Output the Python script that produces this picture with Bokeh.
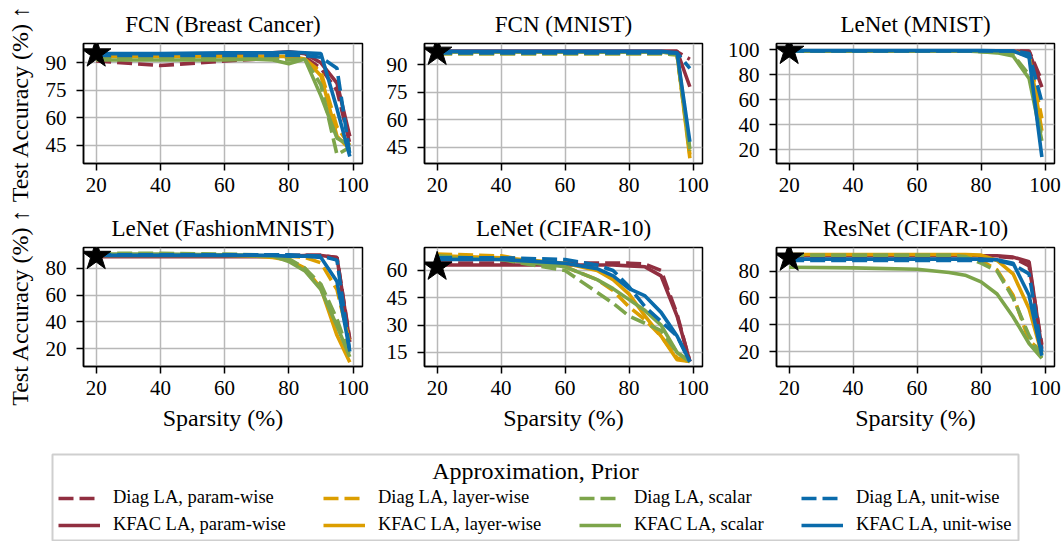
from bokeh.plotting import figure
from bokeh.models import Range1d, FixedTicker, Legend, LegendItem, Label
from bokeh.layouts import row, column
from bokeh.embed import file_html
from bokeh.resources import INLINE

FONT = "Liberation Serif"

# Sparsity levels (%) at which each pruned model was evaluated
SPARSITY = [20, 40, 60, 70, 75, 80, 85, 90, 95, 99]
X_TICKS = [20, 40, 60, 80, 100]

PRIORS = ["param-wise", "layer-wise", "scalar", "unit-wise"]
PRIOR_COLORS = ["#912f40", "#dc9e00", "#7da54b", "#0a6bab"]
APPROXS = ["Diag LA", "KFAC LA"]

# ---- FCN (Breast Cancer) ----
bc_diag_param = [91, 88.5, 91, 92, 92, 93, 93, 87, 75, 46]
bc_kfac_param = [94, 94, 95, 95.5, 95.5, 96, 95, 90, 79, 50]
bc_diag_layer = [93, 93, 93, 93, 93, 93, 92, 85, 55, 45]
bc_kfac_layer = [93.5, 93.5, 93.5, 93.5, 93.5, 93.5, 92, 83, 50, 43]
bc_diag_scalar = [92, 92, 92, 92, 92, 91.5, 92, 78, 40, 44]
bc_kfac_scalar = [91.5, 91.5, 91.5, 92, 91.5, 89.5, 92, 72, 49, 45]
bc_diag_unit = [94, 94, 94, 94, 94, 94, 94, 93, 87, 40]
bc_kfac_unit = [95, 95, 95.5, 95.5, 95.5, 95.8, 95.5, 95, 65, 39]

# ---- FCN (MNIST) ----
fm_diag_param = [96.5, 96.5, 96.5, 96.5, 96.5, 96.5, 96.5, 96.5, 97, 93]
fm_kfac_param = [97.5, 97.5, 97.5, 97.5, 97.5, 97.5, 97.5, 97.5, 97.5, 78]
fm_diag_layer = [96, 96, 96, 96, 96, 96, 96, 96, 95.5, 41]
fm_kfac_layer = [97, 97, 97, 97, 97, 97, 97, 97, 96, 39]
fm_diag_scalar = [96, 96, 96, 96, 96, 96, 96, 96, 95.5, 43]
fm_kfac_scalar = [97, 97, 97, 97, 97, 97, 97, 97, 96, 44]
fm_diag_unit = [96.5, 96.5, 96.5, 96.5, 96.5, 96.5, 96.5, 96.5, 96.5, 88]
fm_kfac_unit = [97.3, 97.3, 97.3, 97.3, 97.3, 97.3, 97.3, 97.3, 96.5, 48]

# ---- LeNet (MNIST) ----
lm_diag_param = [99, 99, 99, 99, 99, 99, 99, 99, 99, 75]
lm_kfac_param = [99, 99, 99, 99, 99, 99, 99, 99, 98.5, 70]
lm_diag_layer = [99, 99, 99, 99, 99, 99, 99, 98.5, 95, 45]
lm_kfac_layer = [99, 99, 99, 99, 99, 99, 99, 98.5, 96, 35]
lm_diag_scalar = [99, 99, 99, 99, 99, 98.5, 98, 96, 80, 30]
lm_kfac_scalar = [99, 99, 99, 99, 99, 98.5, 97.5, 95, 77, 27]
lm_diag_unit = [99, 99, 99, 99, 99, 99, 99, 99, 97, 58]
lm_kfac_unit = [99.4, 99.4, 99.4, 99.4, 99.4, 99.4, 99.2, 99, 94, 14]

# ---- LeNet (FashionMNIST) ----
lf_diag_param = [89.5, 89.5, 89.5, 89.5, 89.5, 89.5, 89.5, 89.5, 88, 27]
lf_kfac_param = [88.5, 88.5, 88.5, 88.5, 88.5, 89, 89.5, 89.5, 88, 25]
lf_diag_layer = [90, 90, 90, 90, 89.5, 89, 88, 84, 64, 24]
lf_kfac_layer = [89.5, 89.5, 89.5, 89, 88, 86, 80, 65, 30, 10]
lf_diag_scalar = [91, 91, 90.5, 90, 89.5, 87, 80, 68, 42, 15]
lf_kfac_scalar = [90.5, 90.5, 90, 89.5, 89, 85, 78, 64, 37, 14]
lf_diag_unit = [90, 90, 90, 90, 90, 90, 89.5, 89, 86, 18]
lf_kfac_unit = [89.5, 89.5, 89.5, 89.5, 89.5, 89, 89, 88, 70, 18]

# ---- LeNet (CIFAR-10) ----
lc_diag_param = [64, 64, 64, 64, 64, 64, 63.5, 60, 36, 10]
lc_kfac_param = [63, 63, 63, 63, 63, 62.5, 62, 57, 35, 10]
lc_diag_layer = [69, 68, 62, 55, 49, 40, 33, 24, 12, 10]
lc_kfac_layer = [68, 67, 64, 60, 55, 47, 35, 24, 11, 10]
lc_diag_scalar = [68, 66, 60, 48, 42, 35, 31, 27, 15, 10]
lc_kfac_scalar = [67, 66, 62, 55, 50, 44, 38, 30, 15, 10]
lc_diag_unit = [67, 67, 66, 63, 60, 51, 40, 32, 24, 10]
lc_kfac_unit = [66, 66, 64, 61, 57, 50, 46, 37, 24, 10]

# ---- ResNet (CIFAR-10) ----
rc_diag_param = [91, 91, 91, 91, 91, 91, 91, 90, 84, 25]
rc_kfac_param = [91.5, 91.5, 91.5, 91.5, 91.5, 91.5, 91.5, 90.5, 87, 22]
rc_diag_layer = [92, 92, 92, 92, 91.5, 88, 81, 62, 28, 20]
rc_kfac_layer = [92.5, 92.5, 92.5, 92.5, 92.5, 92, 88, 78, 52, 18]
rc_diag_scalar = [92, 92, 92, 92, 91, 86, 80, 60, 32, 15]
rc_kfac_scalar = [83, 82.5, 81.5, 79, 77, 72, 63, 46, 26, 15]
rc_diag_unit = [88, 88, 88, 88, 88, 88, 88, 85, 78, 20]
rc_kfac_unit = [89, 89, 89, 89, 89, 89, 88.5, 86, 62, 17]

# Dense (unpruned) reference accuracy, marked with a star
dense_acc = [95, 97, 99, 89, 62, 90]

titles = ["FCN (Breast Cancer)", "FCN (MNIST)", "LeNet (MNIST)",
          "LeNet (FashionMNIST)", "LeNet (CIFAR-10)", "ResNet (CIFAR-10)"]
y_ticks = [[45, 60, 75, 90], [45, 60, 75, 90], [20, 40, 60, 80, 100],
           [20, 40, 60, 80], [15, 30, 45, 60], [20, 40, 60, 80]]
y_limits = [(35.2, 100.5), (36.1, 101.6), (8.8, 105.0),
            (6.8, 95.4), (7.3, 72.6), (8.8, 97.7)]

panel_series = [
    [(bc_diag_param, bc_kfac_param), (bc_diag_layer, bc_kfac_layer),
     (bc_diag_scalar, bc_kfac_scalar), (bc_diag_unit, bc_kfac_unit)],
    [(fm_diag_param, fm_kfac_param), (fm_diag_layer, fm_kfac_layer),
     (fm_diag_scalar, fm_kfac_scalar), (fm_diag_unit, fm_kfac_unit)],
    [(lm_diag_param, lm_kfac_param), (lm_diag_layer, lm_kfac_layer),
     (lm_diag_scalar, lm_kfac_scalar), (lm_diag_unit, lm_kfac_unit)],
    [(lf_diag_param, lf_kfac_param), (lf_diag_layer, lf_kfac_layer),
     (lf_diag_scalar, lf_kfac_scalar), (lf_diag_unit, lf_kfac_unit)],
    [(lc_diag_param, lc_kfac_param), (lc_diag_layer, lc_kfac_layer),
     (lc_diag_scalar, lc_kfac_scalar), (lc_diag_unit, lc_kfac_unit)],
    [(rc_diag_param, rc_kfac_param), (rc_diag_layer, rc_kfac_layer),
     (rc_diag_scalar, rc_kfac_scalar), (rc_diag_unit, rc_kfac_unit)],
]

DASH = "15 6"
LW = 3.6

BORDER_L = [83, 54, 56]
BORDER_R = [8, 18, 9]
FRAME_W = [279, 278, 278]


def make_panel(i):
    r, c = divmod(i, 3)
    p = figure(
        frame_width=FRAME_W[c],
        frame_height=120 if r == 0 else 119,
        min_border_left=BORDER_L[c],
        min_border_right=BORDER_R[c],
        min_border_top=43 if r == 0 else 42,
        min_border_bottom=42 if r == 0 else 79,
        x_range=Range1d(16.05, 102.95),
        y_range=Range1d(*y_limits[i]),
        title=titles[i],
        toolbar_location=None,
        output_backend="svg",
    )
    p.title.text_font = FONT
    p.title.text_font_size = "23px"
    p.title.text_font_style = "normal"
    p.title.align = "center"
    p.title.text_color = "black"
    p.title.standoff = 14

    p.xaxis.ticker = FixedTicker(ticks=X_TICKS)
    p.yaxis.ticker = FixedTicker(ticks=y_ticks[i])
    for ax in (p.xaxis[0], p.yaxis[0]):
        ax.major_label_text_font = FONT
        ax.major_label_text_font_size = "21px"
        ax.major_label_text_color = "black"
        ax.minor_tick_line_color = None
        ax.major_tick_in = 0
        ax.major_tick_out = 7
        ax.major_tick_line_color = "black"
        ax.major_tick_line_width = 1.5
        ax.axis_line_color = "black"
        ax.axis_line_width = 1.5
        ax.axis_label_text_font = FONT
        ax.axis_label_text_font_size = "24px"
        ax.axis_label_text_font_style = "normal"
        ax.axis_label_text_color = "black"
    p.xaxis.major_label_standoff = 7
    p.yaxis.major_label_standoff = 10

    if c == 0:
        p.yaxis.axis_label = "Test Accuracy (%) \u2191"
        p.yaxis.axis_label_standoff = 10
    if r == 1:
        p.xaxis.axis_label = "Sparsity (%)"
        p.xaxis.axis_label_standoff = 7

    p.grid.grid_line_color = "#b8b8b8"
    p.grid.grid_line_width = 1.5
    p.outline_line_color = "black"
    p.outline_line_width = 1.5
    p.outline_line_alpha = 1.0
    p.background_fill_color = "white"
    p.border_fill_color = "white"

    for k, (diag, kfac) in enumerate(panel_series[i]):
        col = PRIOR_COLORS[k]
        p.line(SPARSITY, diag, line_color=col, line_width=LW, line_dash=DASH)
        p.line(SPARSITY, kfac, line_color=col, line_width=LW)

    p.scatter([SPARSITY[0]], [dense_acc[i]], marker="star", size=31,
              fill_color="black", line_color="black")
    return p


panels = [make_panel(i) for i in range(6)]

# ---- shared legend ----
lg = figure(
    frame_width=966, frame_height=86,
    min_border_left=52, min_border_right=45,
    min_border_top=9, min_border_bottom=1,
    x_range=Range1d(0, 1), y_range=Range1d(0, 1),
    x_axis_location=None, y_axis_location=None,
    toolbar_location=None, output_backend="svg",
)
lg.grid.grid_line_color = None
lg.outline_line_color = "#cfcfcf"
lg.outline_line_width = 2
lg.border_fill_color = "white"

lg.add_layout(Label(x=0.5, y=0.81, text="Approximation, Prior",
                    text_align="center", text_baseline="middle",
                    text_font=FONT, text_font_size="24px", text_color="black"))

# legend key renderers sit outside the visible range of this figure
legend_x = [6, 271, 527, 749]
for k, prior in enumerate(PRIORS):
    col = PRIOR_COLORS[k]
    r_d = lg.line([5, 6], [5, 6], line_color=col, line_width=LW, line_dash=DASH)
    r_k = lg.line([5, 6], [5, 6], line_color=col, line_width=LW)
    leg = Legend(
        items=[LegendItem(label=f"{APPROXS[0]}, {prior}", renderers=[r_d]),
               LegendItem(label=f"{APPROXS[1]}, {prior}", renderers=[r_k])],
        location=(legend_x[k], 5), orientation="vertical",
        border_line_color=None, background_fill_alpha=0,
        padding=0, margin=0, spacing=6,
        glyph_width=42, glyph_height=20, label_standoff=13,
        label_text_font=FONT, label_text_font_size="18.5px",
        label_text_color="black",
    )
    lg.add_layout(leg)

layout = column(row(*panels[:3]), row(*panels[3:]), lg)

open("out.html", "w").write(file_html(layout, INLINE))
